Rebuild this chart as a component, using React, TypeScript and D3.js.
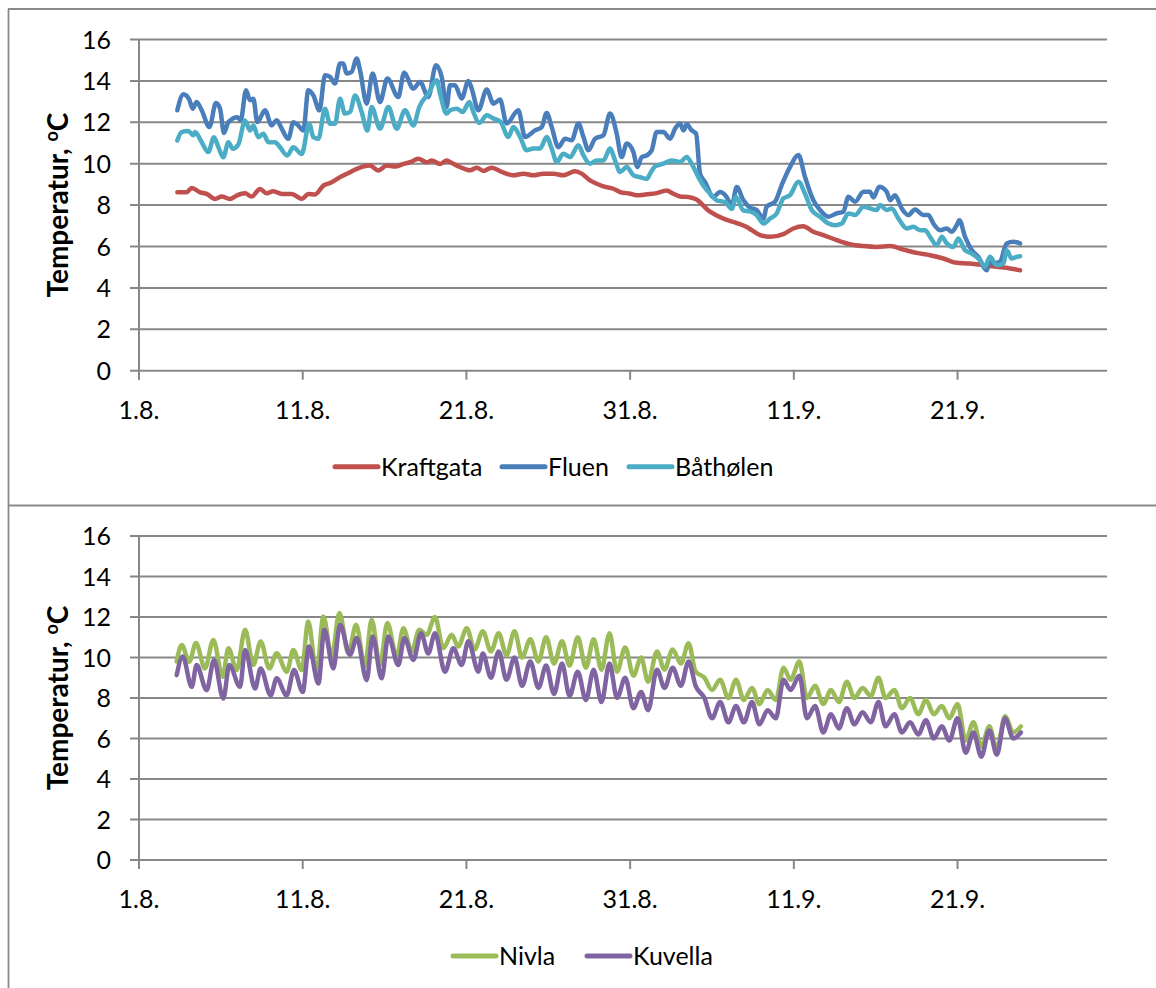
import React from "react";
import * as d3 from "d3";

// days after 1 Aug, temperature in °C
const kraftgata: [number, number][] = [
  [2.34, 8.62], [2.9, 8.62], [3.22, 8.83], [3.73, 8.62], [4.14, 8.54], [4.64, 8.3], [5.05, 8.41], [5.56, 8.3],
  [5.96, 8.46], [6.48, 8.57], [6.88, 8.41], [7.39, 8.78], [7.8, 8.57], [8.2, 8.67], [8.72, 8.54], [9.33, 8.54],
  [9.94, 8.3], [10.35, 8.54], [10.75, 8.51], [11.26, 8.94], [11.77, 9.1], [12.28, 9.35], [12.89, 9.59], [13.3, 9.75],
  [14.11, 9.91], [14.62, 9.67], [15.13, 9.91], [15.64, 9.86], [16.15, 9.99], [16.56, 10.07], [17.06, 10.24],
  [17.57, 10.07], [17.88, 10.15], [18.39, 9.99], [18.79, 10.15], [19.0, 10.08], [19.61, 9.84], [20.22, 9.68],
  [20.63, 9.81], [21.04, 9.65], [21.54, 9.81], [22.16, 9.6], [22.87, 9.44], [23.48, 9.52], [24.09, 9.44],
  [24.7, 9.52], [25.31, 9.52], [25.92, 9.44], [26.64, 9.63], [27.04, 9.52], [27.55, 9.19], [27.96, 9.03],
  [28.37, 8.9], [28.98, 8.79], [29.39, 8.63], [30.0, 8.55], [30.4, 8.47], [31.02, 8.52], [31.62, 8.58],
  [32.23, 8.71], [32.64, 8.55], [33.05, 8.42], [33.56, 8.39], [34.07, 8.26], [34.37, 8.06], [34.78, 7.74],
  [35.29, 7.5], [35.9, 7.29], [36.51, 7.13], [37.12, 6.94], [37.43, 6.79], [37.94, 6.55], [38.55, 6.47],
  [39.36, 6.6], [39.97, 6.87], [40.58, 6.98], [41.19, 6.71], [41.8, 6.55], [42.62, 6.31], [43.43, 6.11],
  [44.25, 6.02], [45.06, 5.98], [45.88, 6.02], [46.69, 5.85], [47.5, 5.69], [48.32, 5.58], [49.13, 5.42],
  [49.95, 5.21], [50.76, 5.18], [51.58, 5.1], [52.39, 5.02], [53.21, 4.94], [53.82, 4.85],
];

const fluen: [number, number][] = [
  [2.34, 12.58], [2.71, 13.35], [3.07, 13.1], [3.28, 12.66], [3.52, 12.98], [3.83, 12.58], [4.3, 11.77],
  [4.7, 12.93], [4.95, 12.66], [5.19, 11.48], [5.46, 12.01], [6.01, 12.25], [6.21, 12.1], [6.54, 13.55],
  [6.78, 13.06], [6.98, 13.14], [7.23, 12.01], [7.7, 12.58], [8.1, 11.85], [8.41, 12.1], [8.72, 11.69],
  [9.12, 11.2], [9.43, 12.0], [9.73, 11.85], [10.04, 11.6], [10.34, 13.55], [10.65, 13.3], [11.02, 12.58],
  [11.36, 14.27], [11.67, 14.19], [11.97, 13.87], [12.28, 14.84], [12.48, 14.84], [12.68, 14.36], [12.99, 14.44],
  [13.3, 15.08], [13.5, 14.52], [13.91, 12.9], [14.27, 14.36], [14.72, 12.98], [15.17, 14.11], [15.84, 13.22],
  [16.19, 14.39], [16.76, 13.63], [17.17, 13.95], [17.67, 13.22], [18.14, 14.76], [18.49, 14.19], [18.79, 12.74],
  [19.0, 13.79], [19.3, 13.79], [19.71, 13.15], [20.12, 14.0], [20.32, 13.63], [20.73, 12.58], [21.24, 13.58],
  [21.65, 12.9], [22.05, 13.1], [22.46, 11.94], [23.17, 12.58], [23.58, 11.29], [24.19, 11.61], [24.6, 11.77],
  [24.9, 12.45], [25.21, 11.77], [25.62, 10.8], [26.03, 11.21], [26.43, 11.13], [26.84, 11.94], [27.15, 11.29],
  [27.45, 10.65], [27.86, 11.21], [28.37, 11.37], [28.77, 12.42], [29.18, 11.45], [29.48, 10.32], [29.79, 10.97],
  [30.2, 10.56], [30.44, 9.84], [30.71, 10.32], [31.02, 10.4], [31.32, 10.65], [31.62, 11.53], [32.03, 11.53],
  [32.44, 11.21], [32.75, 11.7], [33.05, 11.94], [33.26, 11.61], [33.46, 11.9], [33.76, 11.61], [34.03, 11.45],
  [34.27, 9.52], [34.58, 9.11], [35.08, 8.39], [35.49, 8.63], [35.9, 8.39], [36.21, 7.98], [36.51, 8.87],
  [36.92, 8.23], [37.32, 7.88], [37.73, 7.76], [38.14, 7.35], [38.34, 7.92], [38.85, 8.16], [39.26, 8.97],
  [39.77, 9.85], [40.28, 10.42], [40.68, 9.37], [41.19, 8.24], [41.6, 7.76], [42.11, 7.44], [42.62, 7.6],
  [43.03, 7.68], [43.33, 8.4], [43.74, 8.16], [44.25, 8.65], [44.65, 8.65], [44.86, 8.37], [45.22, 8.89],
  [45.67, 8.65], [45.88, 8.24], [46.18, 8.48], [46.59, 7.84], [47.0, 7.52], [47.4, 7.79], [47.91, 7.52],
  [48.22, 7.52], [48.52, 7.11], [48.93, 6.79], [49.34, 6.87], [49.64, 6.71], [49.95, 7.03], [50.11, 7.27],
  [50.46, 6.47], [50.87, 5.82], [51.27, 5.5], [51.78, 4.85], [51.98, 5.42], [52.19, 5.18], [52.59, 5.26],
  [53.0, 6.15], [53.41, 6.23], [53.82, 6.15],
];

const bathoelen: [number, number][] = [
  [2.34, 11.12], [2.6, 11.53], [3.01, 11.58], [3.32, 11.37], [3.42, 11.53], [3.83, 11.04], [4.23, 10.56],
  [4.58, 11.28], [4.85, 10.8], [5.15, 10.31], [5.46, 11.04], [5.72, 10.72], [6.07, 10.93], [6.48, 12.09],
  [6.78, 11.6], [6.98, 11.85], [7.29, 11.28], [7.6, 11.45], [7.9, 11.04], [8.31, 11.04], [8.61, 10.8],
  [9.06, 10.4], [9.43, 10.8], [9.94, 10.47], [10.4, 11.93], [10.65, 11.28], [10.96, 11.2], [11.36, 12.66],
  [11.67, 11.93], [11.97, 11.93], [12.28, 13.14], [12.58, 12.42], [12.89, 12.5], [13.2, 13.3], [13.6, 12.5],
  [13.95, 11.6], [14.21, 12.74], [14.72, 11.69], [15.23, 12.74], [15.74, 11.69], [16.25, 12.58], [16.76, 11.85],
  [17.12, 12.74], [17.67, 13.38], [18.18, 14.03], [18.39, 13.38], [18.79, 12.42], [19.0, 12.58], [19.41, 12.66],
  [19.77, 12.5], [20.18, 12.98], [20.42, 12.5], [20.79, 11.97], [21.24, 12.34], [21.65, 12.18], [22.09, 12.02],
  [22.56, 11.29], [22.87, 11.77], [23.28, 11.29], [23.68, 10.65], [24.09, 10.73], [24.5, 10.73], [24.9, 11.29],
  [25.21, 10.73], [25.52, 10.08], [25.92, 10.48], [26.33, 10.32], [26.84, 10.89], [27.15, 10.4], [27.55, 10.0],
  [27.96, 10.16], [28.37, 10.16], [28.77, 10.73], [29.08, 10.16], [29.39, 9.6], [29.79, 9.84], [30.2, 9.44],
  [30.61, 9.35], [31.02, 9.27], [31.22, 9.52], [31.52, 9.87], [32.03, 10.0], [32.54, 10.16], [33.05, 10.08],
  [33.46, 10.32], [33.76, 10.0], [34.17, 9.35], [34.47, 8.95], [34.98, 8.47], [35.29, 8.23], [35.8, 8.15],
  [36.21, 7.82], [36.47, 8.39], [36.92, 7.74], [37.32, 7.7], [37.73, 7.52], [38.14, 7.11], [38.55, 7.35],
  [38.95, 7.6], [39.36, 8.32], [39.77, 8.48], [40.28, 9.13], [40.68, 8.56], [41.09, 7.76], [41.6, 7.44],
  [42.11, 7.11], [42.52, 7.03], [42.93, 7.11], [43.33, 7.6], [43.74, 7.52], [44.25, 7.92], [44.65, 7.84],
  [45.06, 7.76], [45.27, 8.0], [45.67, 7.76], [45.98, 7.84], [46.39, 7.35], [46.9, 6.87], [47.3, 6.95],
  [47.71, 6.79], [48.02, 6.79], [48.32, 6.47], [48.73, 6.06], [49.04, 6.47], [49.34, 6.15], [49.75, 5.98],
  [50.05, 6.39], [50.46, 5.82], [50.87, 5.66], [51.37, 5.34], [51.68, 5.02], [51.98, 5.5], [52.39, 5.1],
  [52.8, 5.18], [53.0, 5.82], [53.31, 5.42], [53.61, 5.5], [53.82, 5.53],
];

const nivla: [number, number][] = [
  [2.3, 9.8], [2.61, 10.62], [3.07, 9.79], [3.48, 10.71], [4.03, 9.46], [4.54, 10.87], [5.11, 9.05], [5.46, 10.46],
  [5.97, 9.38], [6.48, 11.37], [6.98, 9.63], [7.43, 10.79], [7.96, 9.46], [8.41, 10.21], [9.02, 9.3], [9.43, 10.37],
  [9.94, 9.38], [10.34, 11.78], [10.85, 9.21], [11.26, 12.03], [11.77, 10.04], [12.24, 12.2], [12.79, 10.21],
  [13.26, 11.62], [13.8, 9.55], [14.21, 11.87], [14.72, 9.63], [15.17, 11.7], [15.74, 10.04], [16.15, 11.45],
  [16.66, 10.29], [17.12, 11.37], [17.57, 11.12], [18.08, 12.0], [18.59, 10.46], [19.1, 11.12], [19.5, 10.54],
  [20.02, 11.45], [20.5, 10.4], [21.0, 11.3], [21.5, 10.3], [21.97, 11.2], [22.45, 10.1], [22.94, 11.3],
  [23.4, 10.0], [23.9, 10.9], [24.4, 9.8], [24.87, 11.0], [25.35, 9.7], [25.84, 10.8], [26.3, 9.6], [26.8, 11.0],
  [27.3, 9.5], [27.77, 10.9], [28.25, 9.4], [28.74, 11.2], [29.2, 9.3], [29.7, 10.5], [30.2, 9.1], [30.67, 10.0],
  [31.1, 8.8], [31.64, 10.3], [32.1, 9.4], [32.6, 10.4], [33.1, 9.7], [33.57, 10.7], [34.0, 9.3], [34.54, 9.0],
  [35.0, 8.4], [35.5, 8.9], [36.0, 8.0], [36.47, 8.9], [36.95, 7.9], [37.44, 8.5], [37.9, 7.7], [38.4, 8.4],
  [38.9, 7.9], [39.37, 9.5], [39.8, 8.9], [40.34, 9.8], [40.8, 8.0], [41.3, 8.6], [41.8, 7.7], [42.27, 8.4],
  [42.75, 7.8], [43.24, 8.8], [43.7, 8.0], [44.2, 8.5], [44.7, 8.1], [45.17, 9.0], [45.6, 8.0], [46.14, 8.4],
  [46.6, 7.5], [47.1, 8.0], [47.6, 7.2], [48.07, 7.9], [48.55, 7.2], [49.04, 7.6], [49.5, 7.0], [50.0, 7.7],
  [50.5, 5.9], [50.97, 6.8], [51.45, 5.6], [51.94, 6.6], [52.4, 5.5], [52.9, 7.1], [53.4, 6.3], [53.87, 6.6],
];

const kuvella: [number, number][] = [
  [2.3, 9.13], [2.67, 10.05], [3.22, 8.55], [3.52, 9.63], [4.13, 8.38], [4.58, 9.88], [5.15, 7.97], [5.52, 9.63],
  [6.17, 8.55], [6.48, 10.37], [7.09, 8.47], [7.43, 9.46], [8.04, 8.13], [8.41, 8.97], [9.02, 8.13], [9.47, 9.38],
  [10.0, 8.3], [10.38, 10.54], [10.96, 8.72], [11.32, 11.37], [11.87, 9.46], [12.28, 11.62], [12.89, 10.13],
  [13.3, 10.96], [13.91, 8.88], [14.27, 11.04], [14.82, 8.97], [15.23, 11.04], [15.84, 9.63], [16.21, 10.96],
  [16.76, 9.88], [17.23, 11.2], [17.67, 10.2], [18.08, 11.2], [18.69, 9.3], [19.2, 10.46], [19.71, 9.63],
  [20.12, 10.8], [20.73, 9.3], [21.0, 10.2], [21.5, 9.0], [21.97, 10.3], [22.45, 8.9], [22.94, 10.0],
  [23.4, 8.6], [23.9, 9.8], [24.4, 8.5], [24.87, 9.6], [25.35, 8.2], [25.84, 9.7], [26.3, 8.1], [26.8, 9.3],
  [27.3, 7.9], [27.77, 9.4], [28.25, 7.8], [28.74, 9.7], [29.2, 8.0], [29.7, 9.0], [30.2, 7.5], [30.67, 8.3],
  [31.1, 7.4], [31.64, 9.4], [32.1, 8.5], [32.6, 9.5], [33.1, 8.6], [33.57, 9.8], [34.0, 8.6], [34.54, 8.0],
  [35.0, 7.0], [35.5, 7.8], [36.0, 6.8], [36.47, 7.6], [36.95, 6.8], [37.44, 7.8], [37.9, 6.7], [38.4, 7.4],
  [38.9, 7.0], [39.37, 8.9], [39.8, 8.4], [40.34, 9.1], [40.8, 7.0], [41.3, 7.6], [41.8, 6.3], [42.27, 7.2],
  [42.75, 6.5], [43.24, 7.5], [43.7, 6.7], [44.2, 7.3], [44.7, 6.8], [45.17, 7.8], [45.6, 6.6], [46.14, 7.2],
  [46.6, 6.3], [47.1, 6.8], [47.6, 6.2], [48.07, 6.9], [48.55, 6.0], [49.04, 6.6], [49.5, 5.9], [50.0, 7.0],
  [50.5, 5.3], [50.97, 6.3], [51.45, 5.1], [51.94, 6.4], [52.4, 5.2], [52.9, 7.0], [53.4, 6.0], [53.87, 6.3],
];

const xTickDays = [0, 10, 20, 30, 40, 50];
const xTickLabels = ["1.8.", "11.8.", "21.8.", "31.8.", "11.9.", "21.9."];
const yTicks = [0, 2, 4, 6, 8, 10, 12, 14, 16];

type Series = { name: string; color: string; data: [number, number][]; lx: number };

const topSeries: Series[] = [
  { name: "Kraftgata", color: "#C0504D", data: kraftgata, lx: 335 },
  { name: "Fluen", color: "#4A7EBB", data: fluen, lx: 502 },
  { name: "Båthølen", color: "#4BACC6", data: bathoelen, lx: 629 },
];
const bottomSeries: Series[] = [
  { name: "Nivla", color: "#9BBB59", data: nivla, lx: 453 },
  { name: "Kuvella", color: "#8064A2", data: kuvella, lx: 587 },
];

const FONT = "Lato, 'Open Sans', sans-serif";
const GRID = "#878787";

const x = d3.scaleLinear().domain([0, 59.13]).range([139, 1107]);

function Panel({ y0, y16, series }: { y0: number; y16: number; series: Series[] }) {
  const y = d3.scaleLinear().domain([0, 16]).range([y0, y16]);
  const line = d3
    .line<[number, number]>()
    .x((d) => x(d[0]))
    .y((d) => y(d[1]))
    .curve(d3.curveMonotoneX);
  const [xl, xr] = x.range();
  const mid = (y0 + y16) / 2;
  const legendY = y0 + 96;
  return (
    <g>
      {yTicks.map((t) => (
        <g key={t}>
          <line x1={xl - 9} x2={xr} y1={y(t)} y2={y(t)} stroke={GRID} strokeWidth={2} />
          <text x={111} y={y(t) + 9} textAnchor="end" fontSize={25} fontFamily={FONT} fill="#000">
            {t}
          </text>
        </g>
      ))}
      <line x1={xl} x2={xl} y1={y16} y2={y0 + 9} stroke={GRID} strokeWidth={2} />
      {xTickDays.map((d, i) => (
        <g key={d}>
          <line x1={x(d)} x2={x(d)} y1={y0} y2={y0 + 9} stroke={GRID} strokeWidth={2} />
          <text x={x(d)} y={y0 + 48} textAnchor="middle" fontSize={25} fontFamily={FONT} fill="#000">
            {xTickLabels[i]}
          </text>
        </g>
      ))}
      <text
        transform={`translate(68,${mid}) rotate(-90)`}
        textAnchor="middle"
        fontSize={28}
        fontWeight="bold"
        fontFamily={FONT}
        fill="#000"
      >
        Temperatur, <tspan fontSize={18} dy={-10}>o</tspan>
        <tspan dy={10}>C</tspan>
      </text>
      {series.map((s) => (
        <path
          key={s.name}
          d={line(s.data) ?? ""}
          fill="none"
          stroke={s.color}
          strokeWidth={4.5}
          strokeLinejoin="round"
          strokeLinecap="round"
        />
      ))}
      {series.map((s) => (
        <g key={s.name}>
          <line
            x1={s.lx}
            x2={s.lx + 43}
            y1={legendY}
            y2={legendY}
            stroke={s.color}
            strokeWidth={5}
            strokeLinecap="round"
          />
          <text x={s.lx + 46} y={legendY + 9} fontSize={25} fontFamily={FONT} fill="#000">
            {s.name}
          </text>
        </g>
      ))}
    </g>
  );
}

export default function App() {
  return (
    <svg
      width={1156}
      height={988}
      style={{ position: "absolute", left: 0, top: 0, display: "block", background: "#fff" }}
    >
      <rect x={0} y={0} width={1156} height={988} fill="#fff" />
      <line x1={8.5} x2={8.5} y1={9} y2={988} stroke="#8a8a8a" strokeWidth={1.8} />
      <line x1={8} x2={1156} y1={9} y2={9} stroke="#8a8a8a" strokeWidth={1.8} />
      <line x1={8} x2={1156} y1={505.5} y2={505.5} stroke="#8a8a8a" strokeWidth={1.8} />
      <Panel y0={370.7} y16={39.5} series={topSeries} />
      <Panel y0={860} y16={536} series={bottomSeries} />
    </svg>
  );
}
